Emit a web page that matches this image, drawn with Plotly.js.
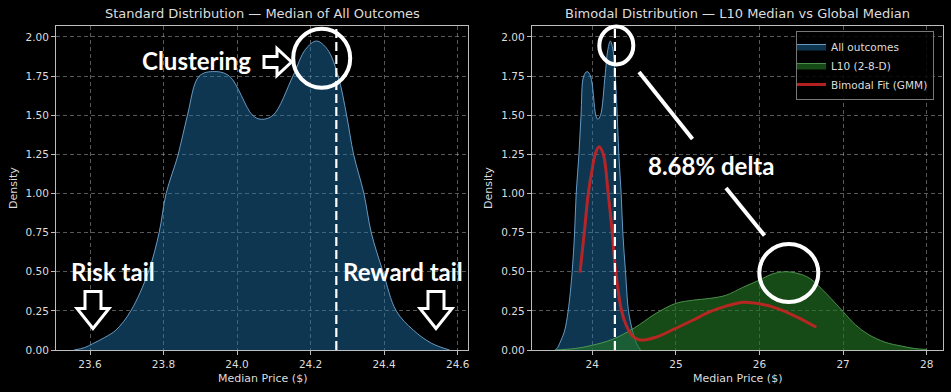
<!DOCTYPE html>
<html>
<head>
<meta charset="utf-8">
<script src="https://cdn.plot.ly/plotly-3.0.1.min.js"></script>
<style>html,body{margin:0;padding:0;background:#000;}#chart{width:951px;height:392px;}</style>
</head>
<body>
<div id="chart"></div>
<script>
// ---- data ----
const allX = [23.557, 23.585, 23.607, 23.640, 23.671, 23.711, 23.759, 23.788, 23.807, 23.840, 23.865, 23.897, 23.938, 23.979, 24.042, 24.066, 24.098, 24.152, 24.186, 24.216, 24.246, 24.275, 24.298, 24.317, 24.345, 24.365, 24.397, 24.433, 24.479, 24.529, 24.578];
const allY = [0.0, 0.015, 0.04, 0.08, 0.128, 0.25, 0.50, 0.75, 1.00, 1.25, 1.50, 1.75, 1.779, 1.75, 1.50, 1.474, 1.50, 1.75, 1.92, 1.974, 1.92, 1.75, 1.50, 1.25, 1.00, 0.75, 0.50, 0.25, 0.128, 0.043, 0.0];

const l10X = [23.55, 23.80, 24.00, 24.25, 24.50, 24.75, 25.00, 25.20, 25.41, 25.60, 25.80, 26.00, 26.15, 26.30, 26.45, 26.60, 26.80, 27.00, 27.15, 27.30, 27.50, 27.70, 27.85, 28.00];
const l10Y = [0.0, 0.01, 0.03, 0.07, 0.14, 0.23, 0.298, 0.318, 0.33, 0.35, 0.40, 0.447, 0.485, 0.50, 0.49, 0.458, 0.36, 0.245, 0.16, 0.10, 0.05, 0.025, 0.01, 0.003];

const gmmX = [23.853, 23.904, 23.952, 24.00, 24.04, 24.08, 24.132, 24.19, 24.24, 24.28, 24.35, 24.41, 24.49, 24.57, 24.75, 25.00, 25.20, 25.41, 25.60, 25.81, 26.00, 26.21, 26.45, 26.68];
const gmmY = [0.494, 0.75, 1.00, 1.16, 1.26, 1.299, 1.25, 1.00, 0.74, 0.50, 0.25, 0.153, 0.085, 0.064, 0.08, 0.139, 0.19, 0.245, 0.28, 0.305, 0.295, 0.266, 0.21, 0.145];

const globalMedian = 24.27;

const leftTicks = [23.6, 23.8, 24.0, 24.2, 24.4, 24.6];
const rightTicks = [24, 25, 26, 27, 28];
const yTicks = [0, 0.25, 0.5, 0.75, 1.0, 1.25, 1.5, 1.75, 2.0];

// ---- layout helpers (pixels -> paper) ----
const W = 951, H = 392;
const px = x => x / W;
const py = y => 1 - y / H;
const P = (x, y) => px(x).toFixed(5) + ',' + py(y).toFixed(5);

const blueFill = 'rgba(31,119,180,0.45)';
const blueLine = 'rgba(120,175,220,0.85)';

const traces = [
  {x: allX, y: allY, xaxis: 'x', yaxis: 'y', type: 'scatter', mode: 'lines',
   line: {color: blueLine, width: 1, shape: 'spline', smoothing: 1}, fill: 'tozeroy', fillcolor: blueFill,
   showlegend: false, hoverinfo: 'skip'},
  {x: allX, y: allY, xaxis: 'x2', yaxis: 'y2', type: 'scatter', mode: 'lines', name: 'All outcomes',
   line: {color: blueLine, width: 1, shape: 'spline', smoothing: 1}, fill: 'tozeroy', fillcolor: blueFill},
  {x: l10X, y: l10Y, xaxis: 'x2', yaxis: 'y2', type: 'scatter', mode: 'lines', name: 'L10 (2-8-D)',
   line: {color: 'rgba(90,170,90,0.8)', width: 1, shape: 'spline', smoothing: 1}, fill: 'tozeroy', fillcolor: 'rgba(36,120,36,0.62)'},
  {x: gmmX, y: gmmY, xaxis: 'x2', yaxis: 'y2', type: 'scatter', mode: 'lines', name: 'Bimodal Fit (GMM)',
   line: {color: 'rgba(200,35,35,0.9)', width: 3, shape: 'spline', smoothing: 1}}
];

const gridStyle = {gridcolor: 'rgba(220,220,220,0.5)', gridwidth: 0.8, griddash: '4px,3px'};
const axisCommon = Object.assign({
  showline: true, mirror: true, linecolor: '#bdbdbd', linewidth: 1,
  ticks: 'outside', ticklen: 4, tickcolor: '#bdbdbd', tickwidth: 1,
  tickfont: {family: 'DejaVu Sans', size: 10.5, color: '#dddddd'},
  zeroline: false, automargin: false, showgrid: true
}, gridStyle);

const yDom = [42 / H, 366 / H];

const layout = {
  width: W, height: H,
  margin: {l: 0, r: 0, t: 0, b: 0},
  paper_bgcolor: '#000', plot_bgcolor: '#000',
  font: {family: 'DejaVu Sans', color: '#dddddd'},
  xaxis: Object.assign({}, axisCommon, {domain: [px(56), px(468.3)], range: [23.5075, 24.629], tickvals: leftTicks, ticktext: leftTicks.map(v => v.toFixed(1)), anchor: 'y'}),
  yaxis: Object.assign({}, axisCommon, {domain: yDom, range: [0, 2.07], tickvals: yTicks, ticktext: yTicks.map(v => v.toFixed(2)), anchor: 'x'}),
  xaxis2: Object.assign({}, axisCommon, {domain: [px(531.7), px(943)], range: [23.275, 28.195], tickvals: rightTicks, ticktext: rightTicks.map(String), anchor: 'y2'}),
  yaxis2: Object.assign({}, axisCommon, {domain: yDom, range: [0, 2.07], tickvals: yTicks, ticktext: yTicks.map(v => v.toFixed(2)), anchor: 'x2'}),
  showlegend: true,
  legend: {x: px(796), y: py(31), xanchor: 'left', yanchor: 'top', bgcolor: 'rgba(0,0,0,0.85)', bordercolor: 'rgba(200,200,200,0.6)', borderwidth: 1,
           font: {family: 'DejaVu Sans', size: 10.5, color: '#dddddd'}, tracegroupgap: 0, itemwidth: 30, indentation: -6},
  shapes: [],
  annotations: []
};

// median dashed lines
['x', 'x2'].forEach((xr, i) => {
  layout.shapes.push({type: 'line', xref: xr, yref: i === 0 ? 'y domain' : 'y2 domain', x0: globalMedian, x1: globalMedian, y0: 0, y1: 1,
    line: {color: '#ffffff', width: 2.2, dash: '9px,4px'}, layer: 'above'});
});

// titles and axis labels
const ann = layout.annotations;
const txt = (text, x, y, opts) => ann.push(Object.assign({text: text, x: px(x), y: py(y), xref: 'paper', yref: 'paper', showarrow: false, xanchor: 'center', yanchor: 'middle',
  font: {family: 'DejaVu Sans', size: 13, color: '#dddddd'}}, opts || {}));
txt('Standard Distribution — Median of All Outcomes', 262.2, 14);
txt('Bimodal Distribution — L10 Median vs Global Median', 737.3, 14);
const lab = {family: 'DejaVu Sans', size: 11, color: '#dddddd'};
txt('Median Price ($)', 262.2, 378, {font: lab});
txt('Median Price ($)', 737.3, 378, {font: lab});
txt('Density', 13, 188, {textangle: -90, font: lab});
txt('Density', 488, 188, {textangle: -90, font: lab});

// callout text
const bigFont = {family: 'Lato', size: 24, color: '#ffffff', weight: 'bold'};
txt('Clustering', 196.7, 60, {font: bigFont});
txt('Risk tail', 112.8, 271, {font: bigFont});
txt('Reward tail', 402.5, 271, {font: bigFont});
txt('8.68% delta', 710.5, 165, {font: bigFont});

// callout shapes
const S = layout.shapes;
const outline = {color: '#ffffff', width: 3};
const pathShape = pts => S.push({type: 'path', xref: 'paper', yref: 'paper', path: 'M' + pts.map(p => P(p[0], p[1])).join('L') + 'Z', fillcolor: '#000', line: outline, layer: 'above'});
// right arrow next to "Clustering"
pathShape([[264, 56.5], [277, 56.5], [277, 48.5], [291.5, 62], [277, 75.5], [277, 67.5], [264, 67.5]]);
// down arrows
const downArrow = cx => pathShape([[cx - 8, 291.5], [cx + 8, 291.5], [cx + 8, 308.5], [cx + 16, 308.5], [cx, 328.5], [cx - 16, 308.5], [cx - 8, 308.5]]);
downArrow(93);
downArrow(436);
// circles
const circle = (cx, cy, rx, ry) => S.push({type: 'circle', xref: 'paper', yref: 'paper', x0: px(cx - rx), x1: px(cx + rx), y0: py(cy + ry), y1: py(cy - ry), line: {color: '#ffffff', width: 4}, layer: 'above'});
circle(321.7, 58.3, 28.5, 29.5);
circle(616.3, 45.5, 17, 19);
circle(788.8, 273, 29.5, 29);
// connector lines
const seg = (x0, y0, x1, y1) => S.push({type: 'line', xref: 'paper', yref: 'paper', x0: px(x0), y0: py(y0), x1: px(x1), y1: py(y1), line: {color: '#ffffff', width: 4}, layer: 'above'});
seg(639, 72, 692.5, 139);
seg(726, 188, 764.5, 235.5);

Plotly.newPlot('chart', traces, layout, {displayModeBar: false, staticPlot: true});
</script>
</body>
</html>
